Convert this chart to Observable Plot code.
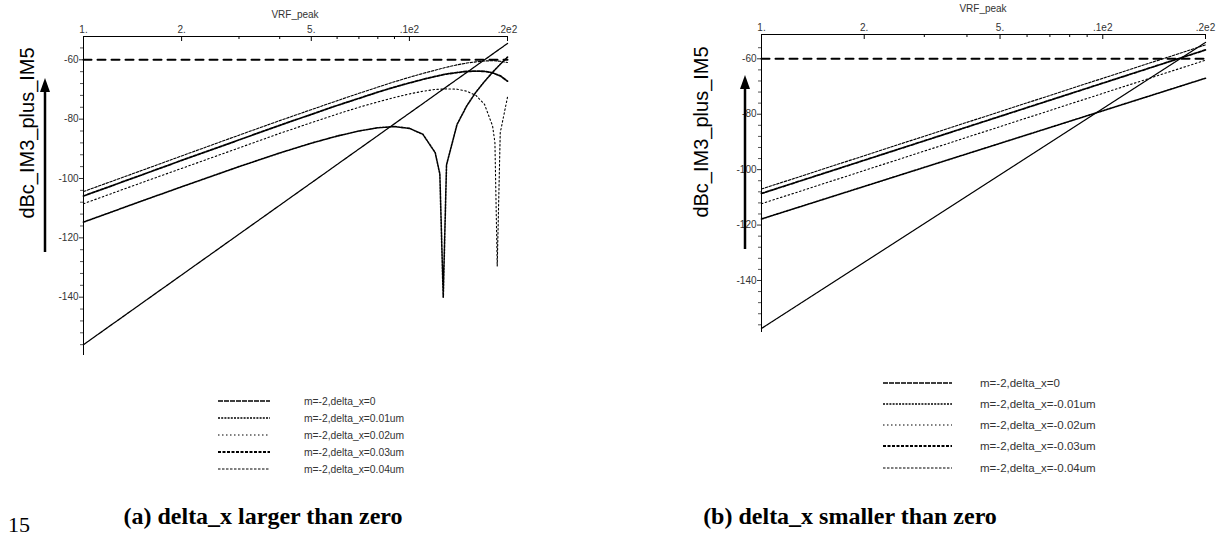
<!DOCTYPE html>
<html><head><meta charset="utf-8">
<script src="https://cdn.jsdelivr.net/npm/d3@7"></script>
<script src="https://cdn.jsdelivr.net/npm/@observablehq/plot@0.6"></script>
<style>
body{margin:0;background:#fff;}
#wrap{position:relative;width:1220px;height:539px;overflow:hidden;font-family:Arial,"Liberation Sans",sans-serif;background:#fff;}
.panel{position:absolute;top:0;}
.ylab{position:absolute;font-size:20px;white-space:nowrap;transform:translate(-50%,-50%) rotate(-90deg);color:#000;}
.xtitle{position:absolute;font-size:10px;color:#333;transform:translate(-50%,-50%);white-space:nowrap;}
.leg{position:absolute;color:#333;white-space:nowrap;transform:translateY(-50%);}
.cap{position:absolute;font-family:"Liberation Serif","Times New Roman",serif;font-weight:bold;font-size:24px;line-height:1.1;color:#000;white-space:nowrap;transform:translateX(-50%);}
#overlay{position:absolute;left:0;top:0;pointer-events:none;}
</style></head><body><div id="wrap"></div>
<script>
// ---------- axis ticks ----------
const xTickValues = [1, 2, 5, 10, 20];
const xTickLabels = ["1.", "2.", "5.", ".1e2", ".2e2"];
const xMinorTicks = [3, 4, 6, 7, 8, 9];
const yMajorTicks = [-60, -80, -100, -120, -140];
const yMinorTicks = [-56, -64, -68, -72, -76, -84, -88, -92, -96, -104, -108, -112, -116, -124, -128, -132, -136, -144, -148, -152, -156];

// ---------- reference limit line ----------
const limitX = [1, 20];
const limitY = [-60, -60];

// ---------- panel (a): delta_x > 0 ----------
const aX0 = [1, 20];
const aY0 = [-156.0, -54.5];
const aX1 = [1, 1.5, 2, 3, 4, 5, 6, 7, 8, 9, 10, 11, 12, 12.4, 12.7, 13, 14, 15, 16, 17, 18, 19, 20];
const aY1 = [-114.7, -107.7, -102.8, -96.0, -91.4, -88.1, -85.7, -84.0, -82.9, -82.5, -83.1, -85.1, -91.3, -98.5, -140.0, -95.4, -81.8, -75.5, -70.9, -67.3, -64.2, -61.5, -59.1];
const aX2 = [1, 1.5, 2, 3, 4, 5, 6, 7, 8, 9, 10, 11, 12, 13, 14, 15, 16, 17, 18, 18.3, 18.6, 19, 20];
const aY2 = [-108.5, -101.5, -96.6, -89.7, -84.8, -81.2, -78.3, -76.0, -74.2, -72.7, -71.5, -70.6, -70.0, -69.8, -69.9, -70.6, -72.0, -75.0, -82.3, -87.9, -129.5, -84.6, -72.6];
const aX3 = [1, 1.5, 2, 3, 4, 5, 6, 7, 8, 9, 10, 11, 12, 13, 14, 15, 16, 17, 18, 19, 20];
const aY3 = [-105.9, -98.9, -93.9, -87.0, -82.1, -78.4, -75.4, -73.0, -70.9, -69.2, -67.8, -66.6, -65.6, -64.8, -64.3, -63.9, -63.8, -63.9, -64.4, -65.4, -67.2];
const aX4 = [1, 1.5, 2, 3, 4, 5, 6, 7, 8, 9, 10, 11, 12, 13, 14, 15, 16, 17, 18, 19, 20];
const aY4 = [-104.4, -97.4, -92.4, -85.4, -80.5, -76.8, -73.8, -71.3, -69.2, -67.4, -65.9, -64.6, -63.5, -62.5, -61.7, -61.1, -60.7, -60.4, -60.3, -60.5, -60.9];
const legendA = ["m=-2,delta_x=0", "m=-2,delta_x=0.01um", "m=-2,delta_x=0.02um", "m=-2,delta_x=0.03um", "m=-2,delta_x=0.04um"];

// ---------- panel (b): delta_x < 0 ----------
const bX = [1, 20];
const bY0 = [-157.3, -54.1];
const bY1 = [-117.8, -67.0];
const bY2 = [-112.3, -60.5];
const bY3 = [-108.6, -56.8];
const bY4 = [-107.0, -55.0];
const legendB = ["m=-2,delta_x=0", "m=-2,delta_x=-0.01um", "m=-2,delta_x=-0.02um", "m=-2,delta_x=-0.03um", "m=-2,delta_x=-0.04um"];

const yTitle = "dBc_IM3_plus_IM5";
const xTitle = "VRF_peak";
const captionA = "(a) delta_x larger than zero";
const captionB = "(b) delta_x smaller than zero";
const pageNo = "15";

// ---------- styles ----------
const limitStyle = {w: 2, dash: "8,6"};
const seriesStyles = [
  {w: 1.3, dash: "5,1"},
  {w: 1.6, dash: "2,1.2"},
  {w: 1.1, dash: "1.5,2.5"},
  {w: 1.8, dash: "3,1.5"},
  {w: 1.1, dash: "2.5,1.5"}
];

function toRows(xs, ys) { return xs.map((x, i) => ({x, y: ys[i]})); }

function makePanel({series, yDomain, width, height, ml, mr, mt, mb}) {
  const plotH = height - mt - mb;
  const lines = series.map((s, i) => Plot.line(toRows(s.x, s.y), {x: "x", y: "y", stroke: "#000", strokeWidth: seriesStyles[i].w, strokeDasharray: seriesStyles[i].dash, curve: "linear"}));
  return Plot.plot({
    width, height, marginLeft: ml, marginRight: mr, marginTop: mt, marginBottom: mb,
    style: {fontFamily: "Arial, 'Liberation Sans', sans-serif", fontSize: "10px", color: "#333", background: "transparent"},
    x: {type: "log", domain: [1, 20], label: null},
    y: {domain: yDomain, label: null},
    marks: [
      Plot.ruleX([1], {stroke: "#000", strokeWidth: 1}),
      Plot.ruleY([yDomain[1]], {stroke: "#000", strokeWidth: 1.2}),
      Plot.tickX(xMinorTicks, {x: d => d, insetBottom: plotH - 3, stroke: "#000"}),
      Plot.tickX(xTickValues, {x: d => d, insetBottom: plotH - 5, stroke: "#000"}),
      Plot.axisX({anchor: "top", ticks: xTickValues, tickSize: 0, tickPadding: 4, label: null, tickFormat: d => xTickLabels[xTickValues.indexOf(d)], fill: "#333"}),
      Plot.axisY({anchor: "left", ticks: yMajorTicks, tickSize: 4, tickPadding: 1, label: null, tickFormat: d => String(d), fill: "#333", stroke: "#333"}),
      Plot.axisY({anchor: "left", ticks: yMinorTicks, tickSize: 3, label: null, tickFormat: () => "", stroke: "#555"}),
      Plot.line(toRows(limitX, limitY), {x: "x", y: "y", stroke: "#000", strokeWidth: limitStyle.w, strokeDasharray: limitStyle.dash}),
      ...lines
    ]
  });
}

const wrap = document.getElementById("wrap");

const pa = makePanel({
  series: [{x: aX0, y: aY0}, {x: aX1, y: aY1}, {x: aX2, y: aY2}, {x: aX3, y: aY3}, {x: aX4, y: aY4}],
  yDomain: [-159.65, -52.15], width: 600, height: 370, ml: 83, mr: 93, mt: 36, mb: 15
});
pa.classList.add("panel"); pa.style.left = "0px";
wrap.appendChild(pa);

const pb = makePanel({
  series: [{x: bX, y: bY0}, {x: bX, y: bY1}, {x: bX, y: bY2}, {x: bX, y: bY3}, {x: bX, y: bY4}],
  yDomain: [-158.77, -51.23], width: 620, height: 350, ml: 161, mr: 15, mt: 34, mb: 18
});
pb.classList.add("panel"); pb.style.left = "600px";
wrap.appendChild(pb);

function addDiv(cls, text, left, top, extra) {
  const d = document.createElement("div");
  d.className = cls; d.textContent = text;
  d.style.left = left + "px"; d.style.top = top + "px";
  if (extra) Object.assign(d.style, extra);
  wrap.appendChild(d);
  return d;
}

// axis titles
addDiv("xtitle", xTitle, 295, 14);
addDiv("xtitle", xTitle, 983, 8);
addDiv("ylab", yTitle, 27, 133);
addDiv("ylab", yTitle, 701, 132);

// overlay svg: arrows and legend samples
const NS = "http://www.w3.org/2000/svg";
const ov = document.createElementNS(NS, "svg");
ov.setAttribute("id", "overlay"); ov.setAttribute("width", 1220); ov.setAttribute("height", 539);
wrap.appendChild(ov);
function el(tag, attrs) { const e = document.createElementNS(NS, tag); for (const k in attrs) e.setAttribute(k, attrs[k]); ov.appendChild(e); return e; }
function arrow(x, y1, y2) {
  el("line", {x1: x, x2: x, y1: y1, y2: y2 + 10, stroke: "#000", "stroke-width": 2.5});
  el("path", {d: `M${x - 5},${y2 + 14}L${x},${y2}L${x + 5},${y2 + 14}Z`, fill: "#000"});
}
arrow(45, 252, 78);
arrow(745, 249, 75);

function legend(labels, sx1, sx2, tx, ys, fs) {
  labels.forEach((lab, i) => {
    const st = seriesStyles[i];
    el("line", {x1: sx1, x2: sx2, y1: ys[i], y2: ys[i], stroke: "#000", "stroke-width": st.w, "stroke-dasharray": st.dash});
    addDiv("leg", lab, tx, ys[i], {fontSize: fs + "px"});
  });
}
legend(legendA, 218, 270, 304, [401, 418, 435, 452, 469], 10.3);
legend(legendB, 883, 952, 980, [383, 404, 425, 446, 468], 11.5);

// captions
addDiv("cap", captionA, 263, 503);
addDiv("cap", captionB, 850, 503);
addDiv("cap", pageNo, 19, 513, {fontWeight: "normal", fontSize: "22px"});
</script></body></html>
